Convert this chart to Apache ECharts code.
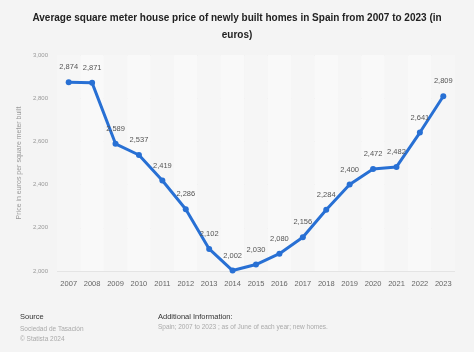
<!DOCTYPE html>
<html>
<head>
<meta charset="utf-8">
<script src="https://cdn.jsdelivr.net/npm/echarts@6/dist/echarts.min.js"></script>
<style>
  html, body { margin: 0; padding: 0; background: #f4f4f4; }
  #chart { width: 474px; height: 352px; }
</style>
</head>
<body>
<div id="chart"></div>
<script>
// 年份和均价（欧元/平方米）
const years = ['2007', '2008', '2009', '2010', '2011', '2012', '2013', '2014', '2015',
  '2016', '2017', '2018', '2019', '2020', '2021', '2022', '2023'];
const prices = [2874, 2871, 2589, 2537, 2419, 2286, 2102, 2002, 2030,
  2080, 2156, 2284, 2400, 2472, 2482, 2641, 2809];
const yTicks = [2000, 2200, 2400, 2600, 2800, 3000];

const fmt = v => v.toLocaleString('en-US');

const chart = echarts.init(document.getElementById('chart'));

const option = {
  backgroundColor: '#f4f4f4',
  animation: false,
  textStyle: { fontFamily: 'Arial, "Liberation Sans", sans-serif' },
  title: [
    {
      text: 'Average square meter house price of newly built homes in Spain from 2007 to 2023 (in\neuros)',
      left: 'center',
      top: 5,
      textStyle: { fontSize: 10, fontWeight: 'bold', color: '#222', lineHeight: 17 }
    },
    {
      text: 'Source',
      left: 15,
      top: 308,
      textStyle: { fontSize: 7.5, fontWeight: 'normal', color: '#333' }
    },
    {
      text: 'Sociedad de Tasación\n© Statista 2024',
      left: 15,
      top: 319,
      textStyle: { fontSize: 6.5, fontWeight: 'normal', color: '#aaa', lineHeight: 10 }
    },
    {
      text: 'Additional Information:',
      left: 153,
      top: 308,
      textStyle: { fontSize: 7.5, fontWeight: 'normal', color: '#333' }
    },
    {
      text: 'Spain; 2007 to 2023 ; as of June of each year; new homes.',
      left: 153,
      top: 319,
      textStyle: { fontSize: 6.5, fontWeight: 'normal', color: '#aaa' }
    }
  ],
  grid: {
    left: 57,
    right: 19,
    top: 55,
    bottom: 81
  },
  xAxis: {
    type: 'category',
    data: years,
    boundaryGap: true,
    axisLine: { show: false },
    axisTick: { show: false },
    axisLabel: { color: '#666', fontSize: 7.5, margin: 9 },
    splitArea: {
      show: true,
      areaStyle: { color: ['#f6f6f6', '#f9f9f9'] }
    }
  },
  yAxis: {
    type: 'value',
    min: 2000,
    max: 3000,
    interval: 200,
    name: 'Price in euros per square meter built',
    nameLocation: 'middle',
    nameGap: 30,
    nameTextStyle: { color: '#999', fontSize: 7 },
    axisLine: { show: false },
    axisTick: { show: false },
    axisLabel: {
      color: '#999',
      fontSize: 6,
      margin: 9,
      formatter: v => yTicks.includes(v) ? fmt(v) : ''
    },
    splitLine: { lineStyle: { color: '#e4e4e4', width: 1 } }
  },
  series: [
    {
      name: 'Price',
      type: 'line',
      data: prices,
      symbol: 'circle',
      symbolSize: 6,
      lineStyle: { color: '#2870d4', width: 3 },
      itemStyle: { color: '#2870d4' },
      label: {
        show: true,
        position: 'top',
        distance: 8,
        color: '#555',
        fontSize: 7.5,
        formatter: p => fmt(p.value)
      }
    }
  ]
};

chart.setOption(option);
</script>
</body>
</html>
